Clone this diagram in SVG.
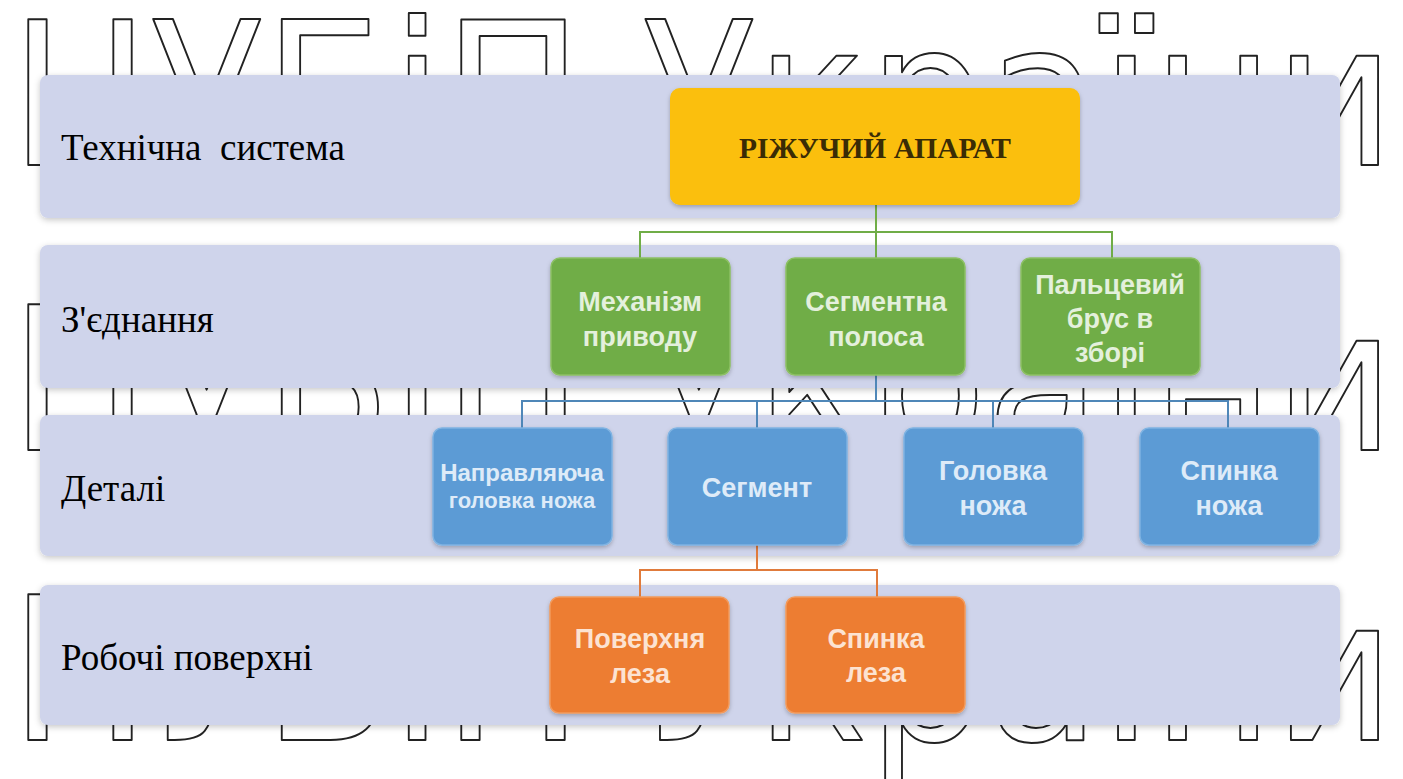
<svg xmlns="http://www.w3.org/2000/svg" width="1403" height="779" viewBox="0 0 1403 779">
<defs>
<filter id="sh" x="-5%" y="-10%" width="110%" height="125%">
<feDropShadow dx="0" dy="2" stdDeviation="3" flood-color="#000" flood-opacity="0.22"/>
</filter>
<filter id="bsh" x="-10%" y="-10%" width="120%" height="130%">
<feDropShadow dx="0" dy="2" stdDeviation="2" flood-color="#000" flood-opacity="0.25"/>
</filter>
</defs>
<style>
.wm{font-family:"DejaVu Sans","Liberation Sans",sans-serif;font-size:200px;fill:#fff;stroke:#222;stroke-width:2;stroke-linejoin:round}
.band{fill:#cfd4eb;filter:url(#sh)}
.lbl{font-family:"Liberation Serif","Times New Roman",serif;font-size:37px;fill:#000}
.top{fill:#fbbf08;filter:url(#bsh)}
.toptx{font-family:"Liberation Serif","Times New Roman",serif;font-weight:bold;font-size:30px;fill:#3a2c05;text-anchor:middle}
.g{fill:#70ad47;stroke:#8cc063;stroke-width:1.5;filter:url(#bsh)}
.b{fill:#5b9bd5;stroke:#7fb3e2;stroke-width:1.5;filter:url(#bsh)}
.o{fill:#ed7d31;stroke:#f29a5c;stroke-width:1.5;filter:url(#bsh)}
.tx{font-family:"Liberation Sans",Arial,sans-serif;font-weight:bold;font-size:27px;text-anchor:middle}
.tg{fill:#e4f0dc}
.tb{fill:#deebf8}
.to{fill:#fce3d2}
.cg{stroke:#70ad47;stroke-width:2;fill:none}
.cb{stroke:#4f87b8;stroke-width:2;fill:none}
.co{stroke:#e07b3c;stroke-width:2;fill:none}
</style>
<rect width="1403" height="779" fill="#fff"/>
<g id="watermark">
<text class="wm" x="10" y="165" textLength="1385" lengthAdjust="spacingAndGlyphs">НУБіП України</text>
<text class="wm" x="10" y="450" textLength="1385" lengthAdjust="spacingAndGlyphs">НУБіП України</text>
<text class="wm" x="10" y="740" textLength="1385" lengthAdjust="spacingAndGlyphs">НУБіП України</text>
</g>
<g id="bands">
<rect class="band" x="40" y="75" width="1300" height="143" rx="8"/>
<rect class="band" x="40" y="245" width="1300" height="143" rx="8"/>
<rect class="band" x="40" y="415" width="1300" height="141" rx="8"/>
<rect class="band" x="40" y="585" width="1300" height="140" rx="8"/>
</g>
<g id="labels">
<text class="lbl" x="61" y="160" xml:space="preserve">Технічна  система</text>
<text class="lbl" x="61" y="332">З'єднання</text>
<text class="lbl" x="61" y="501">Деталі</text>
<text class="lbl" x="61" y="670">Робочі поверхні</text>
</g>
<g id="connectors">
<path class="cg" d="M876 205V232M640 258V232H1112V258M876 232V258"/>
<path class="cb" d="M876 375V401M522 428V401H1228V428M757 401V428M993 401V428"/>
<path class="co" d="M757 545V570M640 597V570H877V597"/>
</g>
<g id="n-root">
<rect class="top" x="670" y="88" width="410" height="117" rx="10"/>
<text class="toptx" x="875" y="158" textLength="272" lengthAdjust="spacingAndGlyphs">РІЖУЧИЙ АПАРАТ</text>
</g>
<g id="n-mekhanizm">
<rect class="g" x="551" y="258" width="179" height="117" rx="9"/>
<text class="tx tg" x="640" y="311">Механізм</text>
<text class="tx tg" x="640" y="346">приводу</text>
</g>
<g id="n-smuha">
<rect class="g" x="786" y="258" width="179" height="117" rx="9"/>
<text class="tx tg" x="876" y="311">Сегментна</text>
<text class="tx tg" x="876" y="346">полоса</text>
</g>
<g id="n-brus">
<rect class="g" x="1021" y="258" width="179" height="117" rx="9"/>
<text class="tx tg" x="1110" y="294">Пальцевий</text>
<text class="tx tg" x="1110" y="328">брус в</text>
<text class="tx tg" x="1110" y="362">зборі</text>
</g>
<g id="n-napr">
<rect class="b" x="433" y="428" width="179" height="117" rx="9"/>
<text class="tx tb" x="522" y="481" style="font-size:24px">Направляюча</text>
<text class="tx tb" x="522" y="508" style="font-size:22px">головка ножа</text>
</g>
<g id="n-segment">
<rect class="b" x="668" y="428" width="179" height="117" rx="9"/>
<text class="tx tb" x="757" y="497">Сегмент</text>
</g>
<g id="n-golovka">
<rect class="b" x="904" y="428" width="179" height="117" rx="9"/>
<text class="tx tb" x="993" y="480">Головка</text>
<text class="tx tb" x="993" y="515">ножа</text>
</g>
<g id="n-spynka">
<rect class="b" x="1140" y="428" width="179" height="117" rx="9"/>
<text class="tx tb" x="1229" y="480">Спинка</text>
<text class="tx tb" x="1229" y="515">ножа</text>
</g>
<g id="n-poverkhnia">
<rect class="o" x="550" y="597" width="179" height="116" rx="9"/>
<text class="tx to" x="640" y="648">Поверхня</text>
<text class="tx to" x="640" y="683">леза</text>
</g>
<g id="n-spynka-leza">
<rect class="o" x="786" y="597" width="179" height="116" rx="9"/>
<text class="tx to" x="876" y="648">Спинка</text>
<text class="tx to" x="876" y="682">леза</text>
</g>
</svg>
